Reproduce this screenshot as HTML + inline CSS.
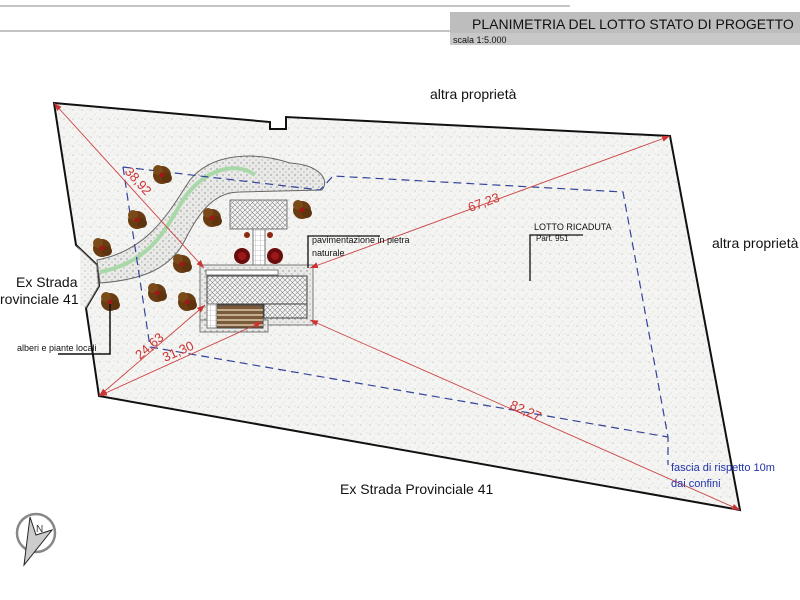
<!DOCTYPE html>
<html><head><meta charset="utf-8"><style>
html,body{margin:0;padding:0;background:#fff;}
svg{display:block;font-family:"Liberation Sans",sans-serif;}
</style></head><body>
<svg width="800" height="600" viewBox="0 0 800 600" xmlns="http://www.w3.org/2000/svg">
<defs>
<pattern id="sp" width="9" height="9" patternUnits="userSpaceOnUse">
<rect width="9" height="9" fill="#f4f4f2"/>
<circle cx="1" cy="2" r="0.6" fill="#b8b8b4"/><circle cx="5" cy="6" r="0.5" fill="#c4c4c0"/><circle cx="7" cy="1" r="0.4" fill="#aaa"/><circle cx="3" cy="8" r="0.4" fill="#bbb"/>
</pattern>
<pattern id="sp2" width="6" height="6" patternUnits="userSpaceOnUse">
<rect width="6" height="6" fill="#e9e9e7"/><circle cx="1" cy="1" r="0.7" fill="#888"/><circle cx="4" cy="4" r="0.6" fill="#999"/>
</pattern>
<pattern id="hx" width="5" height="5" patternUnits="userSpaceOnUse">
<rect width="5" height="5" fill="#f4f4f4"/><path d="M0 0L5 5M5 0L0 5" stroke="#888" stroke-width="0.6"/>
</pattern>
<pattern id="gr" width="5" height="5" patternUnits="userSpaceOnUse">
<rect width="5" height="5" fill="#fff"/><path d="M0 0H5M0 0V5" stroke="#999" stroke-width="0.6"/>
</pattern>
<marker id="ar" markerWidth="8" markerHeight="6" refX="8" refY="3" orient="auto-start-reverse" markerUnits="userSpaceOnUse"><path d="M0 0L8 3L0 6z" fill="#c33"/></marker>
<g id="tr"><circle r="9" fill="#6a3c12"/><circle cx="-4" cy="-5" r="5" fill="#7a4a18"/><circle cx="5" cy="3" r="5" fill="#5e340e"/><circle r="2.5" fill="#a01818"/></g>
<g id="rb"><circle r="8" fill="#6a0c0c"/><circle r="4" fill="#9a1a1a"/></g>
</defs>
<!-- header -->
<line x1="0" y1="6" x2="570" y2="6" stroke="#888" stroke-width="1"/>
<line x1="0" y1="31" x2="450" y2="31" stroke="#888" stroke-width="1"/>
<rect x="450" y="12" width="350" height="33" fill="#bdbdbd"/>
<rect x="450" y="33" width="350" height="12" fill="#c8c8c8"/>
<text x="472" y="29" font-size="14" fill="#111">PLANIMETRIA DEL LOTTO STATO DI PROGETTO</text>
<text x="453" y="43" font-size="9" fill="#111">scala 1:5.000</text>
<!-- lot -->
<polygon points="54,103 270,122 270,129 286,129 286,117 670,136 740,510 99,396 86,308 99,286 97,265 76,245" fill="url(#sp)" stroke="#111" stroke-width="2"/>
<polygon points="76,245 97,265 99,286 86,308 80,306 80,250" fill="url(#sp2)" opacity="0.6"/>
<!-- path -->
<path d="M97,260 C150,250 170,210 190,180 C210,155 250,150 290,163 C320,165 330,180 322,190 L240,192 C215,192 200,210 185,240 C170,270 140,280 100,283 Z" fill="url(#sp2)" stroke="#666" stroke-width="1"/>
<path d="M100,272 C150,262 165,230 180,205 C200,170 235,160 255,175" fill="none" stroke="#a8d8a8" stroke-width="4"/>
<!-- setback dashed -->
<polyline points="123,167 320,190 333,176 623,192 668,437 668,465" fill="none" stroke="#33449a" stroke-width="1.2" stroke-dasharray="8,5"/>
<polyline points="123,167 150,347 668,437" fill="none" stroke="#33449a" stroke-width="1.2" stroke-dasharray="8,5"/>
<!-- buildings -->
<rect x="230" y="200" width="57" height="29" fill="url(#hx)" stroke="#777"/>
<rect x="253" y="229" width="12" height="42" fill="url(#gr)" stroke="#777"/>
<rect x="200" y="265" width="113" height="60" fill="url(#sp2)" stroke="#777"/>
<rect x="200" y="320" width="68" height="12" fill="url(#sp2)" stroke="#777"/>
<rect x="206" y="270" width="72" height="5" fill="#fff" stroke="#777"/>
<rect x="207" y="276" width="100" height="28" fill="url(#hx)" stroke="#444"/>
<rect x="264" y="304" width="43" height="14" fill="url(#hx)" stroke="#444"/>
<rect x="207" y="304" width="10" height="24" fill="url(#gr)" stroke="#777"/>
<rect x="217" y="305" width="46" height="23" fill="#7a5a3a" stroke="#444"/>
<path d="M217,310H263M217,315H263M217,320H263M217,325H263" stroke="#d9c7a8" stroke-width="1.5"/>
<!-- trees -->
<use href="#tr" x="162" y="175"/><use href="#tr" x="137" y="220"/><use href="#tr" x="212" y="218"/>
<use href="#tr" x="102" y="248"/><use href="#tr" x="182" y="264"/><use href="#tr" x="157" y="293"/>
<use href="#tr" x="187" y="302"/><use href="#tr" x="110" y="302"/><use href="#tr" x="302" y="210"/>
<use href="#rb" x="242" y="256"/><use href="#rb" x="275" y="256"/>
<circle cx="247" cy="235" r="3" fill="#8b2a10"/><circle cx="270" cy="235" r="3" fill="#8b2a10"/>
<!-- dimension lines -->
<g stroke="#c44" stroke-width="0.9" fill="none">
<line x1="54" y1="103" x2="204" y2="268" marker-start="url(#ar)" marker-end="url(#ar)"/>
<line x1="310" y1="268" x2="670" y2="136" marker-start="url(#ar)" marker-end="url(#ar)"/>
<line x1="310" y1="320" x2="740" y2="510" marker-start="url(#ar)" marker-end="url(#ar)"/>
<line x1="99" y1="396" x2="205" y2="305" marker-start="url(#ar)" marker-end="url(#ar)"/>
<line x1="99" y1="396" x2="262" y2="322" marker-start="url(#ar)" marker-end="url(#ar)"/>
</g>
<g fill="#c33" font-size="13">
<text transform="translate(124,172) rotate(48)">38,92</text>
<text transform="translate(470,212) rotate(-20)">67,23</text>
<text transform="translate(509,408) rotate(24)">82,27</text>
<text transform="translate(140,360) rotate(-41)">24,63</text>
<text transform="translate(165,362) rotate(-24)">31,30</text>
</g>
<!-- labels -->
<text x="430" y="99" font-size="14" fill="#111">altra proprietà</text>
<text x="712" y="248" font-size="14" fill="#111">altra proprietà</text>
<text x="340" y="494" font-size="14" fill="#111">Ex Strada Provinciale 41</text>
<text x="16" y="287" font-size="14" fill="#111">Ex Strada</text>
<text x="0" y="304" font-size="14" fill="#111">rovinciale 41</text>
<text x="17" y="351" font-size="9" fill="#111">alberi e piante locali</text>
<polyline points="58,354 110,354 110,304" fill="none" stroke="#111" stroke-width="1.5"/>
<text x="312" y="243" font-size="9" fill="#111">pavimentazione in pietra</text>
<text x="312" y="256" font-size="9" fill="#111">naturale</text>
<polyline points="308,268 308,236 380,236" fill="none" stroke="#111" stroke-width="1.3"/>
<text x="534" y="230" font-size="9" fill="#111">LOTTO RICADUTA</text>
<text x="536" y="241" font-size="8" fill="#111">Part. 951</text>
<polyline points="530,281 530,235 583,235" fill="none" stroke="#111" stroke-width="1.3"/>
<text x="671" y="471" font-size="11" fill="#2233aa">fascia di rispetto 10m</text>
<text x="671" y="487" font-size="11" fill="#2233aa">dai confini</text>
<!-- north -->
<circle cx="36" cy="533" r="19" fill="none" stroke="#888" stroke-width="2.5"/>
<path d="M30,517 L24,565 L52,530 L36,535 Z" fill="#ccc" stroke="#222" stroke-width="1"/>
<text x="36" y="532" font-size="10" fill="#333">N</text>
</svg>
</body></html>
